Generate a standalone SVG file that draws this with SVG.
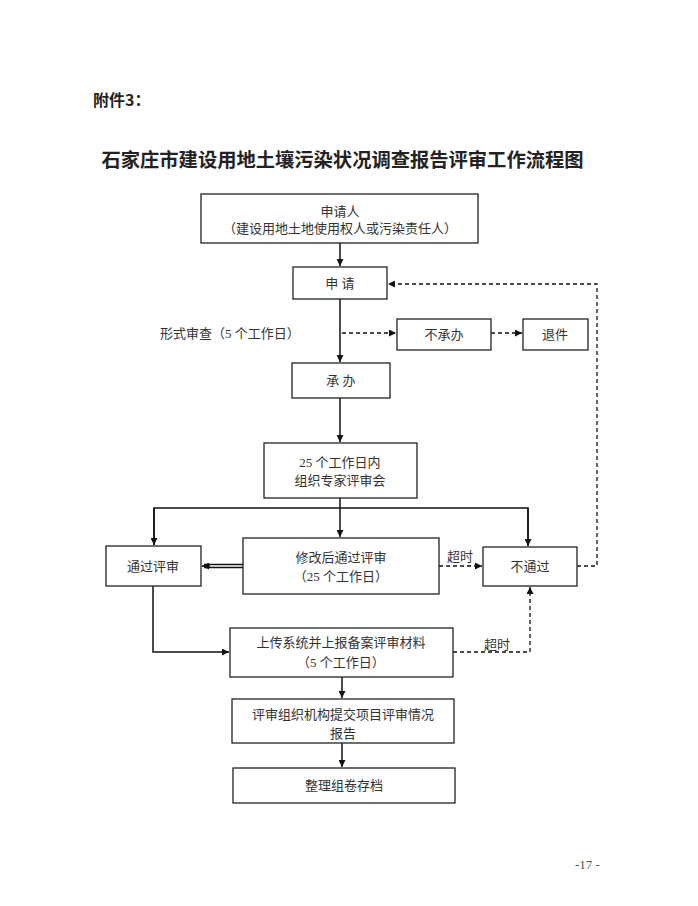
<svg xmlns="http://www.w3.org/2000/svg" width="698" height="906" viewBox="0 0 698 906">
<defs>
<style>
.box{fill:#fff;stroke:#222;stroke-width:1.3}
.t{font-family:"Liberation Serif","Noto Sans CJK SC",serif;font-size:13px;fill:#333;text-anchor:middle}
.ln{fill:none;stroke:#111;stroke-width:1.5}
.dl{fill:none;stroke:#111;stroke-width:1.3;stroke-dasharray:4 3}
</style>
<marker id="ah" viewBox="0 0 10 10" refX="10" refY="5" markerWidth="7" markerHeight="7" markerUnits="userSpaceOnUse" orient="auto">
<path d="M0,0 L10,5 L0,10 z" fill="#111"/>
</marker>
</defs>
<rect width="698" height="906" fill="#fff"/>
<text x="93" y="106" font-family="'Noto Sans CJK SC',sans-serif" font-size="16" font-weight="bold" fill="#222">附件3：</text>
<text x="342.5" y="167" font-family="'Noto Sans CJK SC',sans-serif" font-size="19.3" font-weight="bold" fill="#222" text-anchor="middle">石家庄市建设用地土壤污染状况调查报告评审工作流程图</text>

<g id="connectors">
<path class="ln" d="M340,243 V266" marker-end="url(#ah)"/>
<path class="ln" d="M340,299 V362" marker-end="url(#ah)"/>
<path class="dl" d="M342,333 H396" marker-end="url(#ah)"/>
<path class="dl" d="M491,333 H522" marker-end="url(#ah)"/>
<path class="ln" d="M340,398 V442" marker-end="url(#ah)"/>
<path class="ln" d="M340,498 V537" marker-end="url(#ah)"/>
<path class="ln" d="M154,545 V508 H528 V546"/>
<path class="ln" d="M154,508 V545" marker-end="url(#ah)"/>
<path class="ln" d="M528,508 V546" marker-end="url(#ah)"/>
<path class="ln" d="M243,564.5 H204"/>
<path class="ln" d="M243,567.5 H204"/>
<path class="ln" d="M210,566 H202" marker-end="url(#ah)"/>
<path class="dl" d="M439,566 H482" marker-end="url(#ah)"/>
<path class="dl" d="M577,566 H597 V284 H388" marker-end="url(#ah)"/>
<path class="ln" d="M153,586 V652 H229" marker-end="url(#ah)"/>
<path class="dl" d="M453,652 H530 V587" marker-end="url(#ah)"/>
<path class="ln" d="M342,677 V698" marker-end="url(#ah)"/>
<path class="ln" d="M342,743 V767" marker-end="url(#ah)"/>
<text class="t" x="460" y="561">超时</text>
<text class="t" x="497" y="649">超时</text>
<text x="160" y="338" font-family="'Liberation Serif','Noto Sans CJK SC',serif" font-size="13" fill="#333">形式审查（5 个工作日）</text>
</g>

<g id="applicant"><rect class="box" x="201" y="194" width="277" height="49"/>
<text class="t" x="340" y="216">申请人</text><text class="t" x="340" y="233">（建设用地土地使用权人或污染责任人）</text></g>
<g id="apply"><rect class="box" x="293" y="267" width="94" height="32"/><text class="t" x="340" y="288">申 请</text></g>
<g id="reject"><rect class="box" x="397" y="319" width="94" height="31"/><text class="t" x="444" y="339">不承办</text></g>
<g id="return"><rect class="box" x="523" y="319" width="65" height="31"/><text class="t" x="555" y="339">退件</text></g>
<g id="accept"><rect class="box" x="292" y="363" width="98" height="35"/><text class="t" x="341" y="385">承 办</text></g>
<g id="meeting"><rect class="box" x="264" y="443" width="153" height="55"/>
<text class="t" x="340" y="467">25 个工作日内</text><text class="t" x="340" y="485">组织专家评审会</text></g>
<g id="pass"><rect class="box" x="106" y="546" width="95" height="40"/><text class="t" x="153" y="571">通过评审</text></g>
<g id="modify"><rect class="box" x="243" y="538" width="196" height="56"/>
<text class="t" x="341" y="562">修改后通过评审</text><text class="t" x="341" y="581">（25 个工作日）</text></g>
<g id="fail"><rect class="box" x="483" y="547" width="94" height="39"/><text class="t" x="530" y="571">不通过</text></g>
<g id="upload"><rect class="box" x="230" y="628" width="223" height="49"/>
<text class="t" x="341" y="647">上传系统并上报备案评审材料</text><text class="t" x="341" y="667">（5 个工作日）</text></g>
<g id="report"><rect class="box" x="232" y="699" width="222" height="44"/>
<text class="t" x="343" y="719">评审组织机构提交项目评审情况</text><text class="t" x="343" y="738">报告</text></g>
<g id="archive"><rect class="box" x="233" y="768" width="222" height="35"/><text class="t" x="344" y="790">整理组卷存档</text></g>
<text x="575" y="869" font-family="'Liberation Serif',serif" font-size="13" fill="#555">-17 -</text>
</svg>
